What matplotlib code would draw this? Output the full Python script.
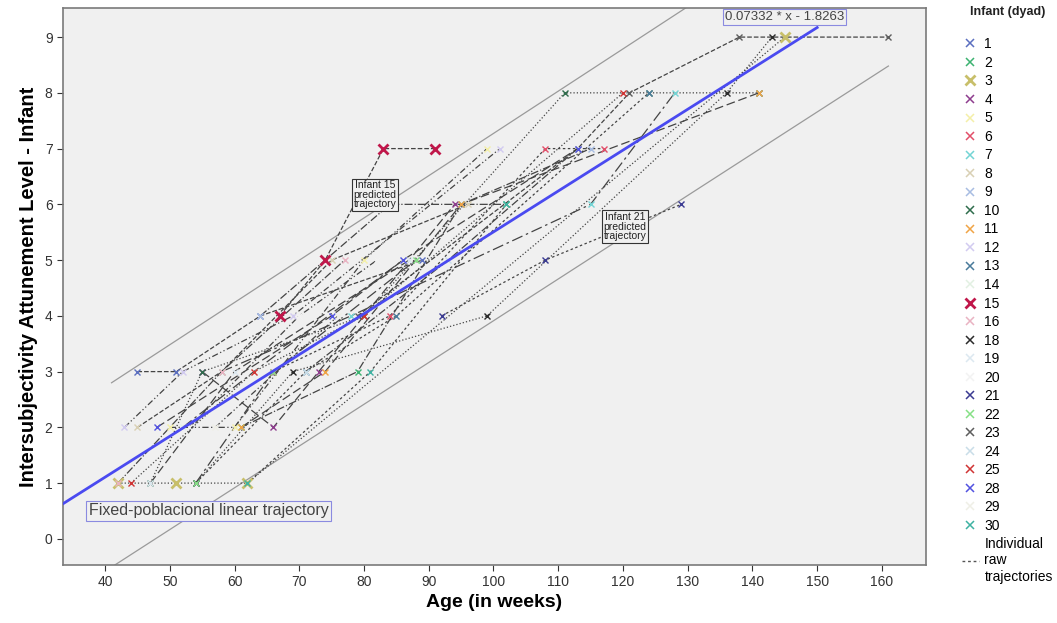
"""
Individual raw trajectories of infant intersubjectivity attunement vs age,
with the fixed (population) linear trajectory and two predicted trajectories.
"""

import matplotlib
matplotlib.use("Agg")
import matplotlib.pyplot as plt
import numpy as np
from matplotlib.lines import Line2D

plt.rcParams["font.family"] = ["Liberation Sans", "DejaVu Sans"]

# infant ids shown in the legend
infant_ids = [1, 2, 3, 4, 5, 6, 7, 8, 9, 10, 11, 12, 13, 14, 15, 16,
              18, 19, 20, 21, 22, 23, 24, 25, 28, 29, 30]

# marker colour per infant (SPSS-like palette, several very pale)
infant_colors = ["#5b6fc0", "#3cb371", "#c8bf6a", "#8e3d8e", "#f4efa8", "#e24f6a",
                 "#74d4d4", "#d9d0b4", "#a8bde2", "#2f6d4c", "#f0a446", "#d2cbf0",
                 "#4a7b9b", "#e2f0e2", "#c0174a", "#e9b3c2", "#2b2b2b", "#dce8f0",
                 "#f2f2f2", "#3b3b92", "#86e086", "#5e5e5e", "#c9dde8", "#d03434",
                 "#5252e0", "#efefe6", "#3fb2a2"]

# raw trajectories (age in weeks, attunement level)
ages = {
    1: [45, 51, 64, 89], 2: [61, 79, 95, 102], 3: [42, 51, 62, 145],
    4: [55, 66, 73, 94], 5: [50, 60, 80, 99], 6: [66, 84, 108, 117],
    7: [58, 78, 115, 128], 8: [45, 58, 75, 96], 9: [64, 84, 95, 115],
    10: [47, 55, 80, 111, 124, 141], 11: [61, 74, 95, 141], 12: [43, 52, 69, 101],
    13: [54, 71, 85, 124], 14: [52, 63, 86], 15: [67, 74, 83, 91],
    16: [42, 58, 77], 18: [54, 69, 99, 136, 143], 19: [47, 60, 87],
    20: [53, 70, 82], 21: [92, 108, 129], 22: [54, 66, 88],
    23: [79, 113, 121, 138, 161], 24: [71, 93, 113], 25: [44, 63, 80, 120],
    28: [48, 75, 86, 113], 29: [57, 76], 30: [62, 81, 102],
}
levels = {
    1: [3, 3, 4, 5], 2: [2, 3, 6, 6], 3: [1, 1, 1, 9],
    4: [3, 2, 3, 6], 5: [2, 2, 5, 7], 6: [3, 4, 7, 7],
    7: [3, 4, 6, 8], 8: [2, 3, 5, 6], 9: [4, 6, 6, 7],
    10: [1, 3, 4, 8, 8, 8], 11: [2, 3, 6, 8], 12: [2, 3, 4, 7],
    13: [1, 3, 4, 8], 14: [2, 3, 5], 15: [4, 5, 7, 7],
    16: [1, 3, 5], 18: [1, 3, 4, 8, 9], 19: [1, 3, 5],
    20: [2, 4, 5], 21: [4, 5, 6], 22: [1, 3, 5],
    23: [4, 7, 8, 9, 9], 24: [3, 5, 7], 25: [1, 3, 4, 8],
    28: [2, 4, 5, 7], 29: [2, 4], 30: [1, 3, 6],
}

# fixed-population linear trajectory: level = slope * age + intercept
fixed_slope = 0.07332
fixed_intercept = -1.8263
fixed_age_range = [30, 150]

# predicted individual trajectories (infant 15 above, infant 21 below)
pred_slope = [0.0758, 0.0749]
pred_intercept = [-0.308, -3.578]
pred_age_start = [41, 41.5]
pred_age_end = [131, 161]

line_styles = ["--", "-.", ":", (0, (7, 3)), (0, (5, 2, 1, 2, 1, 2)),
               (0, (2, 2)), (0, (9, 3, 2, 3))]

BOLD_IDS = (3, 15)


def main():
    fig = plt.figure(figsize=(10.57, 6.23), dpi=100)
    ax = fig.add_axes([0.0596, 0.093, 0.8164, 0.894])
    ax.set_facecolor("#f0f0f0")

    # raw trajectories
    for i, inf in enumerate(infant_ids):
        ax.plot(ages[inf], levels[inf], color="#444444", lw=0.9,
                linestyle=line_styles[i % len(line_styles)], zorder=2)
        bold = inf in BOLD_IDS
        ax.plot(ages[inf], levels[inf], linestyle="none", marker="x",
                color=infant_colors[i], ms=7 if bold else 5,
                mew=2.0 if bold else 1.0, zorder=3)

    # predicted trajectories
    for s, b, a0, a1 in zip(pred_slope, pred_intercept, pred_age_start, pred_age_end):
        xs = np.array([a0, a1])
        ax.plot(xs, s * xs + b, color="#9a9a9a", lw=0.9, zorder=1)

    # fixed population line
    xs = np.array(fixed_age_range)
    ax.plot(xs, fixed_slope * xs + fixed_intercept, color="#4a4af0", lw=2.0, zorder=4)

    ax.text(145, 9.36, "0.07332 * x - 1.8263", ha="center", va="center",
            fontsize=9.5, color="#444444", zorder=6,
            bbox=dict(boxstyle="square,pad=0.15", fc="#f0f0f0", ec="#8a8ae0", lw=0.8))
    ax.text(56, 0.5, "Fixed-poblacional linear trajectory", ha="center", va="center",
            fontsize=11.5, color="#444444", zorder=6,
            bbox=dict(boxstyle="square,pad=0.15", fc="#f0f0f0", ec="#8a8ae0", lw=0.8))
    for x, y, label in [(81.7, 6.17, "Infant 15\npredicted\ntrajectory"),
                        (120.3, 5.6, "Infant 21\npredicted\ntrajectory")]:
        ax.text(x, y, label, ha="center", va="center", fontsize=7.5,
                linespacing=0.95, color="#222222", zorder=6,
                bbox=dict(boxstyle="square,pad=0.15", fc="#f0f0f0", ec="#333333", lw=0.8))

    ax.set_xlim(33.5, 166.8)
    ax.set_ylim(-0.47, 9.52)
    ax.set_xticks(range(40, 161, 10))
    ax.set_yticks(range(0, 10))
    ax.tick_params(labelsize=10, colors="#333333", length=4)
    for sp in ax.spines.values():
        sp.set_color("#7a7a7a")
        sp.set_linewidth(1.2)

    ax.set_xlabel("Age (in weeks)", fontsize=14, fontweight="bold", labelpad=3)
    ax.set_ylabel("Intersubjectivity Attunement Level - Infant", fontsize=14.5,
                  fontweight="bold", labelpad=5)

    handles = [Line2D([], [], linestyle="none", marker="x", color=c,
                      ms=7 if inf in BOLD_IDS else 6,
                      mew=2.0 if inf in BOLD_IDS else 1.1)
               for inf, c in zip(infant_ids, infant_colors)]
    labels = [str(i) for i in infant_ids]
    handles.append(Line2D([], [], color="#555555", lw=1.0, linestyle=(0, (2, 2))))
    labels.append("Individual\nraw\ntrajectories")
    fig.legend(handles, labels, loc="upper left", bbox_to_anchor=(0.905, 0.949),
               frameon=False, fontsize=10, handlelength=1.2, handletextpad=0.4,
               labelspacing=0.325, borderaxespad=0.0)
    fig.text(970 / 1057, 1 - 12 / 623, "Infant (dyad)", fontsize=9, fontweight="bold",
             ha="left", va="center", color="#222222")

    fig.savefig("out.png", dpi=100, facecolor="white")
    plt.close(fig)


if __name__ == "__main__":
    main()
